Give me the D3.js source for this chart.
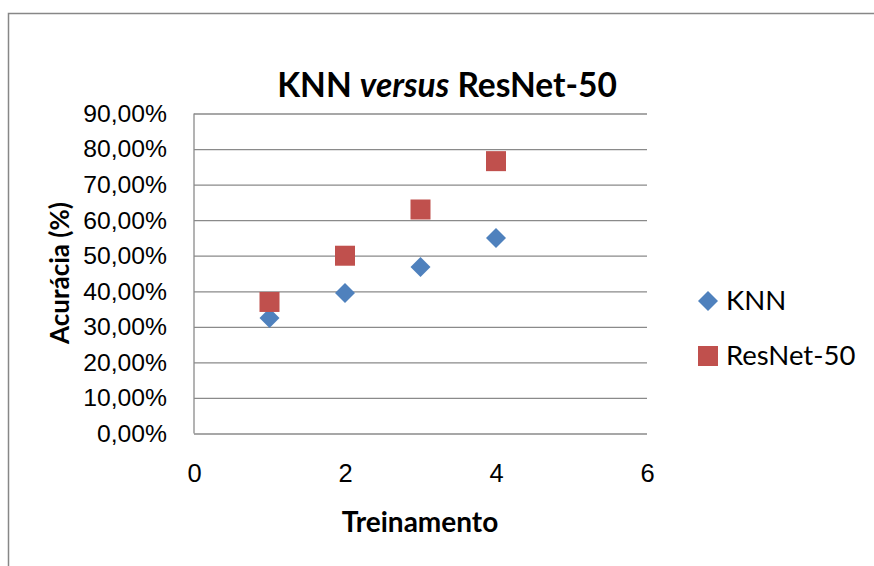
<!DOCTYPE html>
<html>
<head>
<meta charset="utf-8">
<script src="https://cdn.jsdelivr.net/npm/d3@7"></script>
<style>
  body { margin: 0; background: #fff; }
  svg { display: block; font-family: Lato, "Open Sans", sans-serif; }
</style>
</head>
<body>
<div id="chart"></div>
<script>
// data
const trainings = [1, 2, 3, 4];
const knnAcc = [0.325, 0.395, 0.468, 0.55];
const resnetAcc = [0.37, 0.50, 0.63, 0.766];
const xTicks = [0, 2, 4, 6];
const yTicks = [0, 0.1, 0.2, 0.3, 0.4, 0.5, 0.6, 0.7, 0.8, 0.9];
const seriesNames = ["KNN", "ResNet-50"];
const seriesColors = ["#4f81bd", "#c0504d"];

const W = 874, H = 566;
const plot = { left: 194, right: 647, top: 113.5, bottom: 433.5 };

const svg = d3.select("#chart").append("svg")
    .attr("width", W)
    .attr("height", H);

// outer chart border (runs off the right and bottom edges)
svg.append("rect")
    .attr("x", 8.5).attr("y", 13.5)
    .attr("width", W + 20).attr("height", H + 20)
    .attr("fill", "#fff")
    .attr("stroke", "#878787")
    .attr("stroke-width", 1.5);

const x = d3.scaleLinear().domain([0, 6]).range([plot.left, plot.right]);
const y = d3.scaleLinear().domain([0, 0.9]).range([plot.bottom, plot.top]);

const ptBR = d3.formatLocale({ decimal: ",", thousands: ".", grouping: [3], currency: ["R$", ""] });
const pct = ptBR.format(".2%");

// gridlines + y labels
const yAxis = svg.append("g")
    .attr("transform", `translate(${plot.left},0)`)
    .call(d3.axisLeft(y)
        .tickValues(yTicks)
        .tickSize(-(plot.right - plot.left))
        .tickPadding(27)
        .tickFormat(pct));
yAxis.select(".domain").remove();
yAxis.selectAll(".tick line")
    .attr("stroke", "#8a8a8a")
    .attr("stroke-width", 1.3);
yAxis.selectAll(".tick text")
    .attr("fill", "#000")
    .style("font-size", "24.7px");

// left axis line
svg.append("line")
    .attr("x1", plot.left).attr("x2", plot.left)
    .attr("y1", y(0.9)).attr("y2", y(0))
    .attr("stroke", "#8a8a8a")
    .attr("stroke-width", 1.3);

// x labels
const xAxis = svg.append("g")
    .attr("transform", `translate(0,${plot.bottom})`)
    .call(d3.axisBottom(x)
        .tickValues(xTicks)
        .tickSize(0)
        .tickPadding(30)
        .tickFormat(d3.format("d")));
xAxis.select(".domain").remove();
xAxis.selectAll(".tick text")
    .attr("fill", "#000")
    .style("font-size", "25.5px");

// markers
const diamond = d3.symbol().type(d3.symbolSquare).size(200);
svg.append("g").selectAll("path")
    .data(trainings.map((t, i) => [t, knnAcc[i]]))
    .join("path")
    .attr("d", diamond)
    .attr("transform", d => `translate(${x(d[0])},${y(d[1])}) rotate(45)`)
    .attr("fill", seriesColors[0]);

svg.append("g").selectAll("rect")
    .data(trainings.map((t, i) => [t, resnetAcc[i]]))
    .join("rect")
    .attr("x", d => x(d[0]) - 10)
    .attr("y", d => y(d[1]) - 10)
    .attr("width", 20).attr("height", 20)
    .attr("fill", seriesColors[1]);

// title
const title = svg.append("text")
    .attr("x", 447).attr("y", 97)
    .attr("text-anchor", "middle")
    .style("font-size", "33.5px")
    .style("font-weight", "bold");
title.append("tspan").text("KNN ");
title.append("tspan").style("font-style", "italic").text("versus");
title.append("tspan").text(" ResNet-50");

// axis titles
svg.append("text")
    .attr("x", 420).attr("y", 532)
    .attr("text-anchor", "middle")
    .style("font-size", "28px")
    .style("font-weight", "bold")
    .text("Treinamento");

svg.append("text")
    .attr("transform", "translate(69,273) rotate(-90)")
    .attr("text-anchor", "middle")
    .style("font-size", "26px")
    .style("font-weight", "bold")
    .text("Acurácia (%)");

// legend
const legend = svg.append("g").attr("transform", "translate(708,0)");
const legendY = [301, 356];
legend.append("path")
    .attr("d", diamond)
    .attr("transform", `translate(0,${legendY[0]}) rotate(45)`)
    .attr("fill", seriesColors[0]);
legend.append("rect")
    .attr("x", -10).attr("y", legendY[1] - 10)
    .attr("width", 20).attr("height", 20)
    .attr("fill", seriesColors[1]);
legend.selectAll("text")
    .data(seriesNames)
    .join("text")
    .attr("x", 18)
    .attr("y", (d, i) => legendY[i] + 9)
    .style("font-size", "27.5px")
    .text(d => d);
</script>
</body>
</html>
